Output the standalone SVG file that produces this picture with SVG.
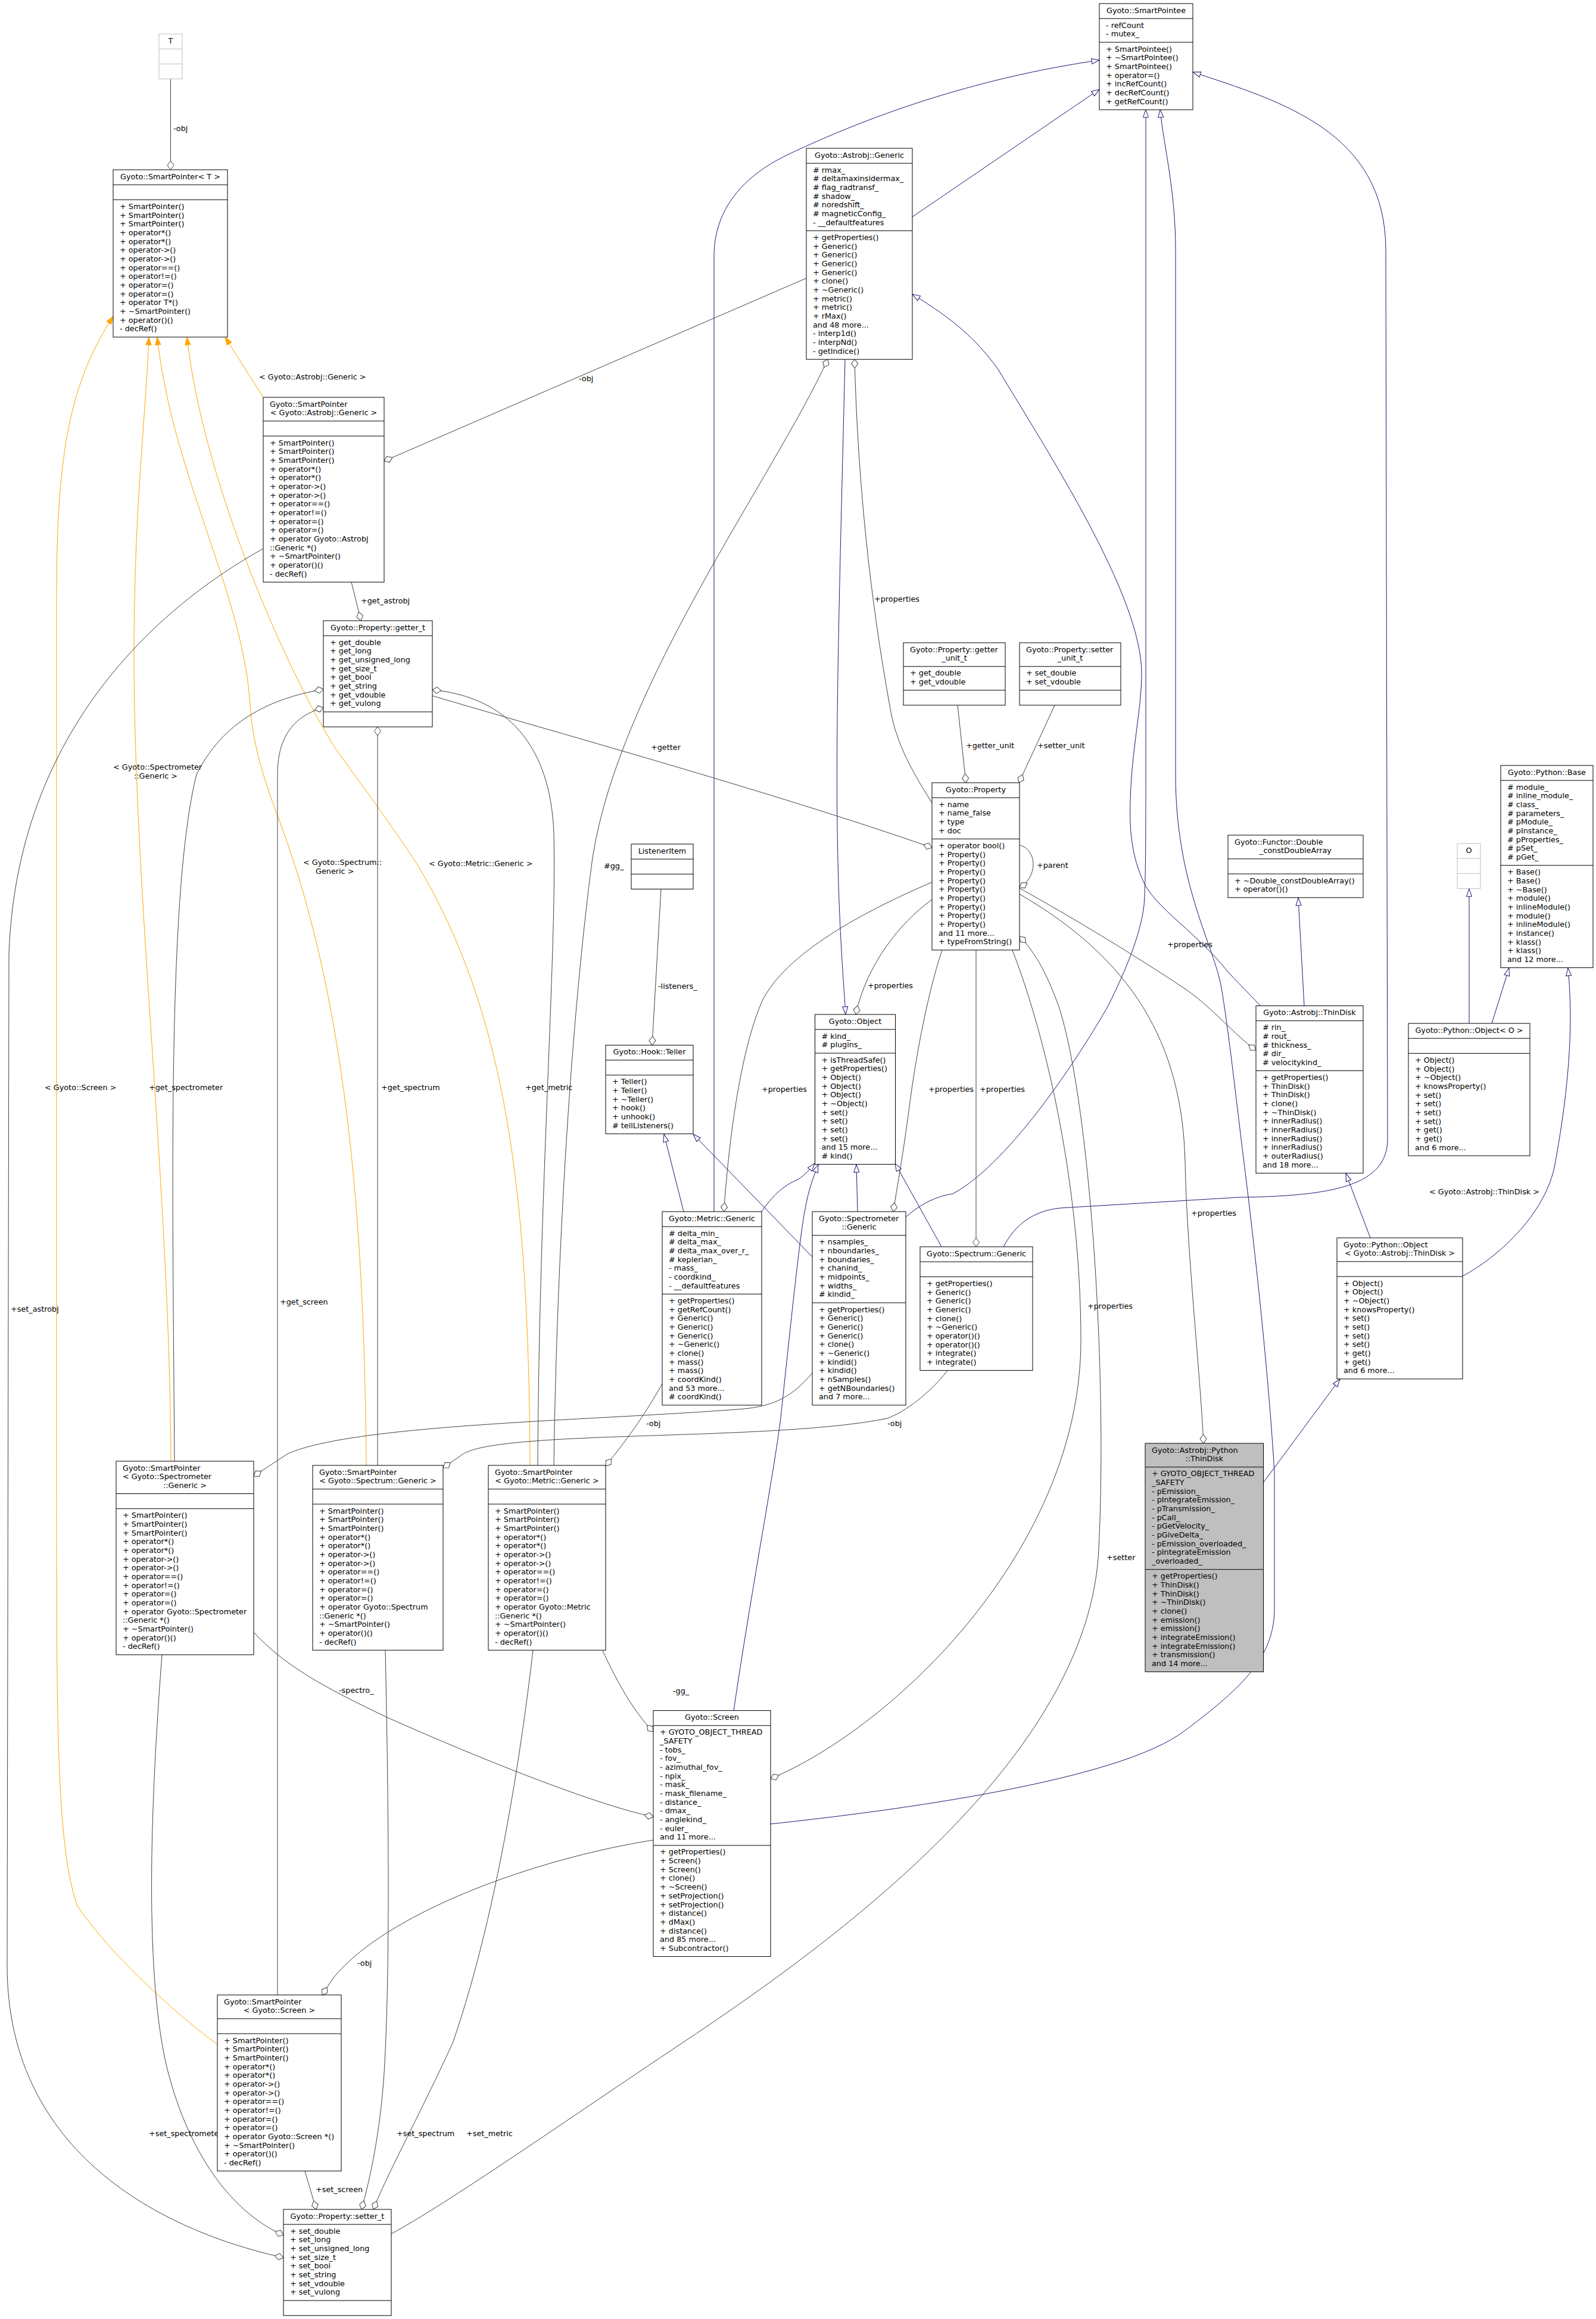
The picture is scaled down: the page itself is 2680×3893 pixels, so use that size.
<svg xmlns="http://www.w3.org/2000/svg" width="2680" height="3893" viewBox="0 0 2680 3893">
<style>
.b{fill:#fff;stroke:#000;stroke-width:1}
.g{fill:#fff;stroke:#bfbfbf;stroke-width:1}
.m{fill:#bfbfbf;stroke:#000;stroke-width:1}
.s{fill:none;stroke:#000;stroke-width:1}
.sg{fill:none;stroke:#bfbfbf;stroke-width:1}
text{font-family:"DejaVu Sans",Verdana,sans-serif;font-size:12.8px;fill:#000}
.c{text-anchor:middle}
.i{fill:none;stroke:#191970;stroke-width:1;marker-end:url(#mi)}
.u{fill:none;stroke:#404040;stroke-width:1;marker-end:url(#md)}
.o{fill:none;stroke:#ffa500;stroke-width:1;marker-end:url(#mo)}
</style>
<defs>
<marker id="mi" markerUnits="userSpaceOnUse" markerWidth="16" markerHeight="12" refX="14" refY="5.5" orient="auto" overflow="visible"><path d="M1,1 L14,5.5 L1,10 Z" fill="#fff" stroke="#191970"/></marker>
<marker id="md" markerUnits="userSpaceOnUse" markerWidth="16" markerHeight="12" refX="15" refY="5.5" orient="auto" overflow="visible"><path d="M0,5.5 L7.5,0 L15,5.5 L7.5,11 Z" fill="#fff" stroke="#404040"/></marker>
<marker id="mo" markerUnits="userSpaceOnUse" markerWidth="16" markerHeight="12" refX="14" refY="5.5" orient="auto" overflow="visible"><path d="M1,1 L14,5.5 L1,10 Z" fill="#ffa500" stroke="#ffa500"/></marker>
</defs>
<rect x="0" y="0" width="2680" height="3893" fill="#fff"/>

<g id="connectors">
<path class="i" d="M1532,364 L1846,150"/>
<path class="i" d="M1199,2034 L1199,430 C1199,350 1250,295 1320,261 C1500,175 1680,125 1846,101"/>
<path class="i" d="M1521,2043 C1550,2018 1575,2008 1600,2004 C1700,1950 1820,1760 1860,1690 C1890,1630 1915,1570 1921,1520 C1924,1480 1924,1400 1924,1300 L1924,184"/>
<path class="i" d="M1685,2093 C1705,2055 1735,2033 1780,2028 L2080,2010 C2240,2008 2330,1990 2330,1912 L2327,420 C2327,220 2150,170 2003,121"/>
<path class="i" d="M1294,3062 C1500,3040 1880,2990 1990,2905 C2090,2830 2140,2780 2140,2700 L2140,2473 C2130,2300 2105,2080 2090,1960 C2075,1840 2062,1720 2050,1653 C2035,1580 1974,1480 1974,1300 L1974,420 C1974,320 1955,250 1948,184"/>
<path class="i" d="M1419,603 C1412,900 1403,1200 1406,1390 C1408,1550 1416,1640 1420,1703"/>
<path class="i" d="M1279,2034 C1295,2010 1315,1990 1340,1980 C1352,1972 1360,1963 1368,1953"/>
<path class="i" d="M1232,2872 C1260,2680 1300,2470 1311,2380 C1330,2200 1345,2060 1352,2030 C1357,2000 1365,1978 1374,1955"/>
<path class="i" d="M1440,2034 L1438,1955"/>
<path class="i" d="M1581,2093 L1503,1953"/>
<path class="i" d="M1148,2034 L1115,1904"/>
<path class="i" d="M1364,2110 L1164,1904"/>
<path class="i" d="M2116,1688 C2092,1662 2068,1640 2050,1617 C2000,1560 1938,1520 1920,1480 C1902,1440 1896,1400 1898,1344 C1900,1260 1917,1190 1917,1130 C1917,1000 1760,760 1676,620 C1640,570 1600,535 1532,494"/>
<path class="i" d="M2190,1688 L2180,1507"/>
<path class="i" d="M2301,2078 L2260,1970"/>
<path class="i" d="M2456,2142 C2500,2120 2590,2050 2610,1960 C2640,1800 2640,1700 2633,1625"/>
<path class="i" d="M2467,1718 L2467,1492"/>
<path class="i" d="M2505,1718 L2534,1625"/>
<path class="i" d="M2122,2488 L2250,2315"/>

<path class="o" d="M442,667 L378,566"/>
<path class="o" d="M287,2453 C285,2000 225,1500 225,1100 C225,850 245,700 250,566"/>
<path class="o" d="M615,2460 C612,2100 590,1700 470,1380 C440,1300 425,1250 420,1185 C410,1000 290,800 264,566"/>
<path class="o" d="M890,2460 C888,2000 850,1700 700,1450 C620,1330 570,1270 553,1240 C470,1100 340,800 314,566"/>
<path class="o" d="M365,3432 C320,3400 200,3300 130,3200 C95,3100 95,2900 95,2500 L95,1000 C95,750 120,640 190,531"/>

<path class="u" d="M286.5,132.5 L286.5,285"/>
<path class="u" d="M1354,467 L645,774"/>
<path class="u" d="M590,977 L606,1042"/>
<path class="u" d="M1565,1348 C1535,1300 1505,1250 1495,1190 C1460,1000 1440,800 1435,603"/>
<path class="u" d="M930,2460 C935,2100 960,1700 995,1440 C1040,1150 1300,800 1390,603"/>
<path class="u" d="M726,1168 C900,1220 1300,1330 1565,1423"/>
<path class="u" d="M903,2460 C905,2000 935,1600 930,1400 C925,1250 850,1170 726,1158"/>
<path class="u" d="M293,2453 C290,2000 280,1500 330,1300 C380,1200 470,1170 543,1157"/>
<path class="u" d="M634,2460 L634,1220"/>
<path class="u" d="M466,3349 L466,1300 C466,1230 500,1200 543,1188"/>
<path class="u" d="M1608,1184 L1622,1314"/>
<path class="u" d="M1771,1184 L1711,1314"/>
<path class="u" d="M1712,1419 C1740,1425 1745,1470 1712,1490"/>
<path class="u" d="M1565,1481 C1450,1530 1320,1600 1280,1680 C1245,1760 1225,1900 1215.5,2034"/>
<path class="u" d="M1565,1510 C1510,1550 1455,1620 1437,1703"/>
<path class="u" d="M1582,1595 C1560,1660 1540,1760 1528,1850 C1515,1950 1505,2000 1500,2034"/>
<path class="u" d="M1639,1595 L1639,2093"/>
<path class="u" d="M1700,1595 C1760,1750 1815,2000 1815,2250 C1815,2600 1500,2900 1294,2986"/>
<path class="u" d="M1712,1491 C1800,1540 1900,1600 1990,1660 C2040,1695 2070,1735 2109,1763"/>
<path class="u" d="M1712,1501 C1900,1610 1985,1750 1990,1950 C1993,2100 2015,2300 2021,2423"/>
<path class="u" d="M657,3750 C750,3700 950,3560 1145,3430 C1400,3260 1830,2950 1845,2600 C1860,2300 1830,1850 1778,1690 C1760,1640 1740,1600 1712,1572"/>
<path class="u" d="M1364,2305 C1330,2345 1300,2360 1250,2365 C1000,2385 600,2390 484,2440 L426,2478"/>
<path class="u" d="M1591,2301 C1560,2340 1520,2370 1490,2381 C1300,2420 850,2400 779,2440 L744,2464"/>
<path class="u" d="M1112,2323 C1080,2380 1050,2420 1017,2461"/>
<path class="u" d="M1012,2771 C1030,2810 1060,2870 1097,2907"/>
<path class="u" d="M426,2740 C480,2800 560,2840 650,2883 C800,2950 1000,3030 1097,3050"/>
<path class="u" d="M1097,3089 C900,3120 650,3210 560,3320 L541,3349"/>
<path class="u" d="M512,3645 L531,3709"/>
<path class="u" d="M647,2770 C652,3000 656,3300 645,3480 C637,3600 615,3680 607,3709"/>
<path class="u" d="M895,2770 C880,2900 840,3200 760,3430 C700,3560 650,3650 627,3709"/>
<path class="u" d="M272,2778 C255,3000 240,3300 280,3470 C320,3630 400,3720 476,3752"/>
<path class="u" d="M442,921 C300,1000 30,1200 15,1600 L12,3300 C12,3600 250,3740 476,3790"/>
<path class="u" d="M1110,1492.5 L1095,1754.5"/>

<text x="291" y="220">-obj</text>
<text x="972" y="640">-obj</text>
<text x="606" y="1013">+get_astrobj</text>
<text x="1468" y="1010">+properties</text>
<text x="1014" y="1458">#gg_</text>
<text x="1093" y="1259">+getter</text>
<text x="1622" y="1256">+getter_unit</text>
<text x="1742" y="1256">+setter_unit</text>
<text x="1741" y="1457">+parent</text>
<text x="1105" y="1660">-listeners_</text>
<text x="1457" y="1659">+properties</text>
<text x="1279" y="1833">+properties</text>
<text x="1559" y="1833">+properties</text>
<text x="1645" y="1833">+properties</text>
<text x="1960" y="1590">+properties</text>
<text x="2000" y="2041">+properties</text>
<text x="1826" y="2197">+properties</text>
<text x="1858" y="2619">+setter</text>
<text x="2400" y="2005">&lt; Gyoto::Astrobj::ThinDisk &gt;</text>
<text x="435" y="637">&lt; Gyoto::Astrobj::Generic &gt;</text>
<text x="190" y="1292">&lt; Gyoto::Spectrometer<tspan x="225" dy="14.67">::Generic &gt;</tspan></text>
<text x="509" y="1452">&lt; Gyoto::Spectrum::<tspan x="530" dy="14.67">Generic &gt;</tspan></text>
<text x="720" y="1454">&lt; Gyoto::Metric::Generic &gt;</text>
<text x="75" y="1830">&lt; Gyoto::Screen &gt;</text>
<text x="250" y="1830">+get_spectrometer</text>
<text x="640" y="1830">+get_spectrum</text>
<text x="882" y="1830">+get_metric</text>
<text x="470" y="2190">+get_screen</text>
<text x="18" y="2202">+set_astrobj</text>
<text x="1085" y="2394">-obj</text>
<text x="1490" y="2394">-obj</text>
<text x="569" y="2842">-spectro_</text>
<text x="1130" y="2843">-gg_</text>
<text x="600" y="3300">-obj</text>
<text x="250" y="3586">+set_spectrometer</text>
<text x="666" y="3586">+set_spectrum</text>
<text x="783" y="3586">+set_metric</text>
<text x="530" y="3680">+set_screen</text>
</g>

<g id="smartpointee">
<rect class="b" x="1846" y="6" width="157" height="178.2"/>
<path class="s" d="M1846,31.17H2003M1846,71.01H2003"/>
<text class="c" x="1924.5" y="21.5">Gyoto::SmartPointee</text>
<text x="1857" y="46.67">- refCount<tspan x="1857" dy="14.67">- mutex_</tspan></text>
<text x="1857" y="86.51">+ SmartPointee()<tspan x="1857" dy="14.67">+ ~SmartPointee()</tspan><tspan x="1857" dy="14.67">+ SmartPointee()</tspan><tspan x="1857" dy="14.67">+ operator=()</tspan><tspan x="1857" dy="14.67">+ incRefCount()</tspan><tspan x="1857" dy="14.67">+ decRefCount()</tspan><tspan x="1857" dy="14.67">+ getRefCount()</tspan></text>
</g>

<g id="t">
<rect class="g" x="267" y="57" width="39" height="75.5"/>
<path class="sg" d="M267,82.17H306M267,107.34H306"/>
<text class="c" x="286.5" y="72.5">T</text>
</g>

<g id="smartpointer_t">
<rect class="b" x="190" y="285" width="192" height="280.9"/>
<path class="s" d="M190,310.17H382M190,335.34H382"/>
<text class="c" x="286" y="300.5">Gyoto::SmartPointer&lt; T &gt;</text>
<text x="201" y="350.84">+ SmartPointer()<tspan x="201" dy="14.67">+ SmartPointer()</tspan><tspan x="201" dy="14.67">+ SmartPointer()</tspan><tspan x="201" dy="14.67">+ operator*()</tspan><tspan x="201" dy="14.67">+ operator*()</tspan><tspan x="201" dy="14.67">+ operator-&gt;()</tspan><tspan x="201" dy="14.67">+ operator-&gt;()</tspan><tspan x="201" dy="14.67">+ operator==()</tspan><tspan x="201" dy="14.67">+ operator!=()</tspan><tspan x="201" dy="14.67">+ operator=()</tspan><tspan x="201" dy="14.67">+ operator=()</tspan><tspan x="201" dy="14.67">+ operator T*()</tspan><tspan x="201" dy="14.67">+ ~SmartPointer()</tspan><tspan x="201" dy="14.67">+ operator()()</tspan><tspan x="201" dy="14.67">- decRef()</tspan></text>
</g>

<g id="astrobj_generic">
<rect class="b" x="1354" y="249" width="178" height="354.24"/>
<path class="s" d="M1354,274.17H1532M1354,387.36H1532"/>
<text class="c" x="1443" y="264.5">Gyoto::Astrobj::Generic</text>
<text x="1365" y="289.67"># rmax_<tspan x="1365" dy="14.67"># deltamaxinsidermax_</tspan><tspan x="1365" dy="14.67"># flag_radtransf_</tspan><tspan x="1365" dy="14.67"># shadow_</tspan><tspan x="1365" dy="14.67"># noredshift_</tspan><tspan x="1365" dy="14.67"># magneticConfig_</tspan><tspan x="1365" dy="14.67">- __defaultfeatures</tspan></text>
<text x="1365" y="402.86">+ getProperties()<tspan x="1365" dy="14.67">+ Generic()</tspan><tspan x="1365" dy="14.67">+ Generic()</tspan><tspan x="1365" dy="14.67">+ Generic()</tspan><tspan x="1365" dy="14.67">+ Generic()</tspan><tspan x="1365" dy="14.67">+ clone()</tspan><tspan x="1365" dy="14.67">+ ~Generic()</tspan><tspan x="1365" dy="14.67">+ metric()</tspan><tspan x="1365" dy="14.67">+ metric()</tspan><tspan x="1365" dy="14.67">+ rMax()</tspan><tspan x="1365" dy="14.67">and 48 more...</tspan><tspan x="1365" dy="14.67">- interp1d()</tspan><tspan x="1365" dy="14.67">- interpNd()</tspan><tspan x="1365" dy="14.67">- getIndice()</tspan></text>
</g>

<g id="smartpointer_astrobj">
<rect class="b" x="442" y="667" width="203" height="310.23"/>
<path class="s" d="M442,706.84H645M442,732.01H645"/>
<text x="453" y="682.5">Gyoto::SmartPointer</text>
<text class="c" x="543.5" y="697.17">&lt; Gyoto::Astrobj::Generic &gt;</text>
<text x="453" y="747.51">+ SmartPointer()<tspan x="453" dy="14.67">+ SmartPointer()</tspan><tspan x="453" dy="14.67">+ SmartPointer()</tspan><tspan x="453" dy="14.67">+ operator*()</tspan><tspan x="453" dy="14.67">+ operator*()</tspan><tspan x="453" dy="14.67">+ operator-&gt;()</tspan><tspan x="453" dy="14.67">+ operator-&gt;()</tspan><tspan x="453" dy="14.67">+ operator==()</tspan><tspan x="453" dy="14.67">+ operator!=()</tspan><tspan x="453" dy="14.67">+ operator=()</tspan><tspan x="453" dy="14.67">+ operator=()</tspan><tspan x="453" dy="14.67">+ operator Gyoto::Astrobj</tspan><tspan x="453" dy="14.67">::Generic *()</tspan><tspan x="453" dy="14.67">+ ~SmartPointer()</tspan><tspan x="453" dy="14.67">+ operator()()</tspan><tspan x="453" dy="14.67">- decRef()</tspan></text>
</g>

<g id="getter_t">
<rect class="b" x="543" y="1042" width="183" height="178.2"/>
<path class="s" d="M543,1067.17H726M543,1195.03H726"/>
<text class="c" x="634.5" y="1057.5">Gyoto::Property::getter_t</text>
<text x="554" y="1082.67">+ get_double<tspan x="554" dy="14.67">+ get_long</tspan><tspan x="554" dy="14.67">+ get_unsigned_long</tspan><tspan x="554" dy="14.67">+ get_size_t</tspan><tspan x="554" dy="14.67">+ get_bool</tspan><tspan x="554" dy="14.67">+ get_string</tspan><tspan x="554" dy="14.67">+ get_vdouble</tspan><tspan x="554" dy="14.67">+ get_vulong</tspan></text>
</g>

<g id="getter_unit_t">
<rect class="b" x="1517" y="1079" width="171" height="104.85"/>
<path class="s" d="M1517,1118.84H1688M1517,1158.68H1688"/>
<text x="1528" y="1094.5">Gyoto::Property::getter</text>
<text class="c" x="1602.5" y="1109.17">_unit_t</text>
<text x="1528" y="1134.34">+ get_double<tspan x="1528" dy="14.67">+ get_vdouble</tspan></text>
</g>

<g id="setter_unit_t">
<rect class="b" x="1712" y="1079" width="170" height="104.85"/>
<path class="s" d="M1712,1118.84H1882M1712,1158.68H1882"/>
<text x="1723" y="1094.5">Gyoto::Property::setter</text>
<text class="c" x="1797" y="1109.17">_unit_t</text>
<text x="1723" y="1134.34">+ set_double<tspan x="1723" dy="14.67">+ set_vdouble</tspan></text>
</g>

<g id="property">
<rect class="b" x="1565" y="1314" width="147" height="280.89"/>
<path class="s" d="M1565,1339.17H1712M1565,1408.35H1712"/>
<text class="c" x="1638.5" y="1329.5">Gyoto::Property</text>
<text x="1576" y="1354.67">+ name<tspan x="1576" dy="14.67">+ name_false</tspan><tspan x="1576" dy="14.67">+ type</tspan><tspan x="1576" dy="14.67">+ doc</tspan></text>
<text x="1576" y="1423.85">+ operator bool()<tspan x="1576" dy="14.67">+ Property()</tspan><tspan x="1576" dy="14.67">+ Property()</tspan><tspan x="1576" dy="14.67">+ Property()</tspan><tspan x="1576" dy="14.67">+ Property()</tspan><tspan x="1576" dy="14.67">+ Property()</tspan><tspan x="1576" dy="14.67">+ Property()</tspan><tspan x="1576" dy="14.67">+ Property()</tspan><tspan x="1576" dy="14.67">+ Property()</tspan><tspan x="1576" dy="14.67">+ Property()</tspan><tspan x="1576" dy="14.67">and 11 more...</tspan><tspan x="1576" dy="14.67">+ typeFromString()</tspan></text>
</g>

<g id="functor">
<rect class="b" x="2062" y="1402" width="227" height="104.85"/>
<path class="s" d="M2062,1441.84H2289M2062,1467.01H2289"/>
<text x="2073" y="1417.5">Gyoto::Functor::Double</text>
<text class="c" x="2175.5" y="1432.17">_constDoubleArray</text>
<text x="2073" y="1482.51">+ ~Double_constDoubleArray()<tspan x="2073" dy="14.67">+ operator()()</tspan></text>
</g>

<g id="python_base">
<rect class="b" x="2520" y="1285" width="155" height="339.57"/>
<path class="s" d="M2520,1310.17H2675M2520,1452.7H2675"/>
<text class="c" x="2597.5" y="1300.5">Gyoto::Python::Base</text>
<text x="2531" y="1325.67"># module_<tspan x="2531" dy="14.67"># inline_module_</tspan><tspan x="2531" dy="14.67"># class_</tspan><tspan x="2531" dy="14.67"># parameters_</tspan><tspan x="2531" dy="14.67"># pModule_</tspan><tspan x="2531" dy="14.67"># pInstance_</tspan><tspan x="2531" dy="14.67"># pProperties_</tspan><tspan x="2531" dy="14.67"># pSet_</tspan><tspan x="2531" dy="14.67"># pGet_</tspan></text>
<text x="2531" y="1468.2">+ Base()<tspan x="2531" dy="14.67">+ Base()</tspan><tspan x="2531" dy="14.67">+ ~Base()</tspan><tspan x="2531" dy="14.67">+ module()</tspan><tspan x="2531" dy="14.67">+ inlineModule()</tspan><tspan x="2531" dy="14.67">+ module()</tspan><tspan x="2531" dy="14.67">+ inlineModule()</tspan><tspan x="2531" dy="14.67">+ instance()</tspan><tspan x="2531" dy="14.67">+ klass()</tspan><tspan x="2531" dy="14.67">+ klass()</tspan><tspan x="2531" dy="14.67">and 12 more...</tspan></text>
</g>

<g id="o">
<rect class="g" x="2447" y="1416" width="39" height="75.5"/>
<path class="sg" d="M2447,1441.17H2486M2447,1466.34H2486"/>
<text class="c" x="2466.5" y="1431.5">O</text>
</g>

<g id="listeneritem">
<rect class="b" x="1060" y="1417" width="104" height="75.5"/>
<path class="s" d="M1060,1442.17H1164M1060,1467.34H1164"/>
<text class="c" x="1112" y="1432.5">ListenerItem</text>
</g>

<g id="teller">
<rect class="b" x="1017" y="1754.5" width="147" height="148.86"/>
<path class="s" d="M1017,1779.67H1164M1017,1804.84H1164"/>
<text class="c" x="1090.5" y="1770">Gyoto::Hook::Teller</text>
<text x="1028" y="1820.34">+ Teller()<tspan x="1028" dy="14.67">+ Teller()</tspan><tspan x="1028" dy="14.67">+ ~Teller()</tspan><tspan x="1028" dy="14.67">+ hook()</tspan><tspan x="1028" dy="14.67">+ unhook()</tspan><tspan x="1028" dy="14.67"># tellListeners()</tspan></text>
</g>

<g id="object">
<rect class="b" x="1368.5" y="1703" width="135" height="251.55"/>
<path class="s" d="M1368.5,1728.17H1503.5M1368.5,1768.01H1503.5"/>
<text class="c" x="1436" y="1718.5">Gyoto::Object</text>
<text x="1379.5" y="1743.67"># kind_<tspan x="1379.5" dy="14.67"># plugins_</tspan></text>
<text x="1379.5" y="1783.51">+ isThreadSafe()<tspan x="1379.5" dy="14.67">+ getProperties()</tspan><tspan x="1379.5" dy="14.67">+ Object()</tspan><tspan x="1379.5" dy="14.67">+ Object()</tspan><tspan x="1379.5" dy="14.67">+ Object()</tspan><tspan x="1379.5" dy="14.67">+ ~Object()</tspan><tspan x="1379.5" dy="14.67">+ set()</tspan><tspan x="1379.5" dy="14.67">+ set()</tspan><tspan x="1379.5" dy="14.67">+ set()</tspan><tspan x="1379.5" dy="14.67">+ set()</tspan><tspan x="1379.5" dy="14.67">and 15 more...</tspan><tspan x="1379.5" dy="14.67"># kind()</tspan></text>
</g>

<g id="thindisk">
<rect class="b" x="2109" y="1688.5" width="180" height="280.89"/>
<path class="s" d="M2109,1713.67H2289M2109,1797.52H2289"/>
<text class="c" x="2199" y="1704">Gyoto::Astrobj::ThinDisk</text>
<text x="2120" y="1729.17"># rin_<tspan x="2120" dy="14.67"># rout_</tspan><tspan x="2120" dy="14.67"># thickness_</tspan><tspan x="2120" dy="14.67"># dir_</tspan><tspan x="2120" dy="14.67"># velocitykind_</tspan></text>
<text x="2120" y="1813.02">+ getProperties()<tspan x="2120" dy="14.67">+ ThinDisk()</tspan><tspan x="2120" dy="14.67">+ ThinDisk()</tspan><tspan x="2120" dy="14.67">+ clone()</tspan><tspan x="2120" dy="14.67">+ ~ThinDisk()</tspan><tspan x="2120" dy="14.67">+ innerRadius()</tspan><tspan x="2120" dy="14.67">+ innerRadius()</tspan><tspan x="2120" dy="14.67">+ innerRadius()</tspan><tspan x="2120" dy="14.67">+ innerRadius()</tspan><tspan x="2120" dy="14.67">+ outerRadius()</tspan><tspan x="2120" dy="14.67">and 18 more...</tspan></text>
</g>

<g id="python_object_o">
<rect class="b" x="2365" y="1718" width="204" height="222.21"/>
<path class="s" d="M2365,1743.17H2569M2365,1768.34H2569"/>
<text class="c" x="2467" y="1733.5">Gyoto::Python::Object&lt; O &gt;</text>
<text x="2376" y="1783.84">+ Object()<tspan x="2376" dy="14.67">+ Object()</tspan><tspan x="2376" dy="14.67">+ ~Object()</tspan><tspan x="2376" dy="14.67">+ knowsProperty()</tspan><tspan x="2376" dy="14.67">+ set()</tspan><tspan x="2376" dy="14.67">+ set()</tspan><tspan x="2376" dy="14.67">+ set()</tspan><tspan x="2376" dy="14.67">+ set()</tspan><tspan x="2376" dy="14.67">+ get()</tspan><tspan x="2376" dy="14.67">+ get()</tspan><tspan x="2376" dy="14.67">and 6 more...</tspan></text>
</g>

<g id="metric_generic">
<rect class="b" x="1112" y="2034" width="167" height="324.9"/>
<path class="s" d="M1112,2059.17H1279M1112,2172.36H1279"/>
<text class="c" x="1195.5" y="2049.5">Gyoto::Metric::Generic</text>
<text x="1123" y="2074.67"># delta_min_<tspan x="1123" dy="14.67"># delta_max_</tspan><tspan x="1123" dy="14.67"># delta_max_over_r_</tspan><tspan x="1123" dy="14.67"># keplerian_</tspan><tspan x="1123" dy="14.67">- mass_</tspan><tspan x="1123" dy="14.67">- coordkind_</tspan><tspan x="1123" dy="14.67">- __defaultfeatures</tspan></text>
<text x="1123" y="2187.86">+ getProperties()<tspan x="1123" dy="14.67">+ getRefCount()</tspan><tspan x="1123" dy="14.67">+ Generic()</tspan><tspan x="1123" dy="14.67">+ Generic()</tspan><tspan x="1123" dy="14.67">+ Generic()</tspan><tspan x="1123" dy="14.67">+ ~Generic()</tspan><tspan x="1123" dy="14.67">+ clone()</tspan><tspan x="1123" dy="14.67">+ mass()</tspan><tspan x="1123" dy="14.67">+ mass()</tspan><tspan x="1123" dy="14.67">+ coordKind()</tspan><tspan x="1123" dy="14.67">and 53 more...</tspan><tspan x="1123" dy="14.67"># coordKind()</tspan></text>
</g>

<g id="spectrometer_generic">
<rect class="b" x="1364" y="2034" width="157" height="324.9"/>
<path class="s" d="M1364,2073.84H1521M1364,2187.03H1521"/>
<text x="1375" y="2049.5">Gyoto::Spectrometer</text>
<text class="c" x="1442.5" y="2064.17">::Generic</text>
<text x="1375" y="2089.34">+ nsamples_<tspan x="1375" dy="14.67">+ nboundaries_</tspan><tspan x="1375" dy="14.67">+ boundaries_</tspan><tspan x="1375" dy="14.67">+ chanind_</tspan><tspan x="1375" dy="14.67">+ midpoints_</tspan><tspan x="1375" dy="14.67">+ widths_</tspan><tspan x="1375" dy="14.67"># kindid_</tspan></text>
<text x="1375" y="2202.53">+ getProperties()<tspan x="1375" dy="14.67">+ Generic()</tspan><tspan x="1375" dy="14.67">+ Generic()</tspan><tspan x="1375" dy="14.67">+ Generic()</tspan><tspan x="1375" dy="14.67">+ clone()</tspan><tspan x="1375" dy="14.67">+ ~Generic()</tspan><tspan x="1375" dy="14.67">+ kindid()</tspan><tspan x="1375" dy="14.67">+ kindid()</tspan><tspan x="1375" dy="14.67">+ nSamples()</tspan><tspan x="1375" dy="14.67">+ getNBoundaries()</tspan><tspan x="1375" dy="14.67">and 7 more...</tspan></text>
</g>

<g id="spectrum_generic">
<rect class="b" x="1545" y="2093" width="189" height="207.54"/>
<path class="s" d="M1545,2118.17H1734M1545,2143.34H1734"/>
<text class="c" x="1639.5" y="2108.5">Gyoto::Spectrum::Generic</text>
<text x="1556" y="2158.84">+ getProperties()<tspan x="1556" dy="14.67">+ Generic()</tspan><tspan x="1556" dy="14.67">+ Generic()</tspan><tspan x="1556" dy="14.67">+ Generic()</tspan><tspan x="1556" dy="14.67">+ clone()</tspan><tspan x="1556" dy="14.67">+ ~Generic()</tspan><tspan x="1556" dy="14.67">+ operator()()</tspan><tspan x="1556" dy="14.67">+ operator()()</tspan><tspan x="1556" dy="14.67">+ integrate()</tspan><tspan x="1556" dy="14.67">+ integrate()</tspan></text>
</g>

<g id="python_object_thindisk">
<rect class="b" x="2245" y="2078" width="211" height="236.88"/>
<path class="s" d="M2245,2117.84H2456M2245,2143.01H2456"/>
<text x="2256" y="2093.5">Gyoto::Python::Object</text>
<text class="c" x="2350.5" y="2108.17">&lt; Gyoto::Astrobj::ThinDisk &gt;</text>
<text x="2256" y="2158.51">+ Object()<tspan x="2256" dy="14.67">+ Object()</tspan><tspan x="2256" dy="14.67">+ ~Object()</tspan><tspan x="2256" dy="14.67">+ knowsProperty()</tspan><tspan x="2256" dy="14.67">+ set()</tspan><tspan x="2256" dy="14.67">+ set()</tspan><tspan x="2256" dy="14.67">+ set()</tspan><tspan x="2256" dy="14.67">+ set()</tspan><tspan x="2256" dy="14.67">+ get()</tspan><tspan x="2256" dy="14.67">+ get()</tspan><tspan x="2256" dy="14.67">and 6 more...</tspan></text>
</g>

<g id="python_thindisk">
<rect class="m" x="1923" y="2423" width="198.5" height="383.58"/>
<path class="s" d="M1923,2462.84H2121.5M1923,2634.71H2121.5"/>
<text x="1934" y="2438.5">Gyoto::Astrobj::Python</text>
<text class="c" x="2022.25" y="2453.17">::ThinDisk</text>
<text x="1934" y="2478.34">+ GYOTO_OBJECT_THREAD<tspan x="1934" dy="14.67">_SAFETY</tspan><tspan x="1934" dy="14.67">- pEmission_</tspan><tspan x="1934" dy="14.67">- pIntegrateEmission_</tspan><tspan x="1934" dy="14.67">- pTransmission_</tspan><tspan x="1934" dy="14.67">- pCall_</tspan><tspan x="1934" dy="14.67">- pGetVelocity_</tspan><tspan x="1934" dy="14.67">- pGiveDelta_</tspan><tspan x="1934" dy="14.67">- pEmission_overloaded_</tspan><tspan x="1934" dy="14.67">- pIntegrateEmission</tspan><tspan x="1934" dy="14.67">_overloaded_</tspan></text>
<text x="1934" y="2650.21">+ getProperties()<tspan x="1934" dy="14.67">+ ThinDisk()</tspan><tspan x="1934" dy="14.67">+ ThinDisk()</tspan><tspan x="1934" dy="14.67">+ ~ThinDisk()</tspan><tspan x="1934" dy="14.67">+ clone()</tspan><tspan x="1934" dy="14.67">+ emission()</tspan><tspan x="1934" dy="14.67">+ emission()</tspan><tspan x="1934" dy="14.67">+ integrateEmission()</tspan><tspan x="1934" dy="14.67">+ integrateEmission()</tspan><tspan x="1934" dy="14.67">+ transmission()</tspan><tspan x="1934" dy="14.67">and 14 more...</tspan></text>
</g>

<g id="smartpointer_spectrometer">
<rect class="b" x="195" y="2453" width="231" height="324.9"/>
<path class="s" d="M195,2507.51H426M195,2532.68H426"/>
<text x="206" y="2468.5">Gyoto::SmartPointer<tspan x="206" dy="14.67">&lt; Gyoto::Spectrometer</tspan></text>
<text class="c" x="310.5" y="2497.84">::Generic &gt;</text>
<text x="206" y="2548.18">+ SmartPointer()<tspan x="206" dy="14.67">+ SmartPointer()</tspan><tspan x="206" dy="14.67">+ SmartPointer()</tspan><tspan x="206" dy="14.67">+ operator*()</tspan><tspan x="206" dy="14.67">+ operator*()</tspan><tspan x="206" dy="14.67">+ operator-&gt;()</tspan><tspan x="206" dy="14.67">+ operator-&gt;()</tspan><tspan x="206" dy="14.67">+ operator==()</tspan><tspan x="206" dy="14.67">+ operator!=()</tspan><tspan x="206" dy="14.67">+ operator=()</tspan><tspan x="206" dy="14.67">+ operator=()</tspan><tspan x="206" dy="14.67">+ operator Gyoto::Spectrometer</tspan><tspan x="206" dy="14.67">::Generic *()</tspan><tspan x="206" dy="14.67">+ ~SmartPointer()</tspan><tspan x="206" dy="14.67">+ operator()()</tspan><tspan x="206" dy="14.67">- decRef()</tspan></text>
</g>

<g id="smartpointer_spectrum">
<rect class="b" x="525" y="2460" width="219" height="310.23"/>
<path class="s" d="M525,2499.84H744M525,2525.01H744"/>
<text x="536" y="2475.5">Gyoto::SmartPointer</text>
<text class="c" x="634.5" y="2490.17">&lt; Gyoto::Spectrum::Generic &gt;</text>
<text x="536" y="2540.51">+ SmartPointer()<tspan x="536" dy="14.67">+ SmartPointer()</tspan><tspan x="536" dy="14.67">+ SmartPointer()</tspan><tspan x="536" dy="14.67">+ operator*()</tspan><tspan x="536" dy="14.67">+ operator*()</tspan><tspan x="536" dy="14.67">+ operator-&gt;()</tspan><tspan x="536" dy="14.67">+ operator-&gt;()</tspan><tspan x="536" dy="14.67">+ operator==()</tspan><tspan x="536" dy="14.67">+ operator!=()</tspan><tspan x="536" dy="14.67">+ operator=()</tspan><tspan x="536" dy="14.67">+ operator=()</tspan><tspan x="536" dy="14.67">+ operator Gyoto::Spectrum</tspan><tspan x="536" dy="14.67">::Generic *()</tspan><tspan x="536" dy="14.67">+ ~SmartPointer()</tspan><tspan x="536" dy="14.67">+ operator()()</tspan><tspan x="536" dy="14.67">- decRef()</tspan></text>
</g>

<g id="smartpointer_metric">
<rect class="b" x="820" y="2460" width="197" height="310.23"/>
<path class="s" d="M820,2499.84H1017M820,2525.01H1017"/>
<text x="831" y="2475.5">Gyoto::SmartPointer</text>
<text class="c" x="918.5" y="2490.17">&lt; Gyoto::Metric::Generic &gt;</text>
<text x="831" y="2540.51">+ SmartPointer()<tspan x="831" dy="14.67">+ SmartPointer()</tspan><tspan x="831" dy="14.67">+ SmartPointer()</tspan><tspan x="831" dy="14.67">+ operator*()</tspan><tspan x="831" dy="14.67">+ operator*()</tspan><tspan x="831" dy="14.67">+ operator-&gt;()</tspan><tspan x="831" dy="14.67">+ operator-&gt;()</tspan><tspan x="831" dy="14.67">+ operator==()</tspan><tspan x="831" dy="14.67">+ operator!=()</tspan><tspan x="831" dy="14.67">+ operator=()</tspan><tspan x="831" dy="14.67">+ operator=()</tspan><tspan x="831" dy="14.67">+ operator Gyoto::Metric</tspan><tspan x="831" dy="14.67">::Generic *()</tspan><tspan x="831" dy="14.67">+ ~SmartPointer()</tspan><tspan x="831" dy="14.67">+ operator()()</tspan><tspan x="831" dy="14.67">- decRef()</tspan></text>
</g>

<g id="screen">
<rect class="b" x="1097" y="2871.6" width="197" height="412.92"/>
<path class="s" d="M1097,2896.77H1294M1097,3097.98H1294"/>
<text class="c" x="1195.5" y="2887.1">Gyoto::Screen</text>
<text x="1108" y="2912.27">+ GYOTO_OBJECT_THREAD<tspan x="1108" dy="14.67">_SAFETY</tspan><tspan x="1108" dy="14.67">- tobs_</tspan><tspan x="1108" dy="14.67">- fov_</tspan><tspan x="1108" dy="14.67">- azimuthal_fov_</tspan><tspan x="1108" dy="14.67">- npix_</tspan><tspan x="1108" dy="14.67">- mask_</tspan><tspan x="1108" dy="14.67">- mask_filename_</tspan><tspan x="1108" dy="14.67">- distance_</tspan><tspan x="1108" dy="14.67">- dmax_</tspan><tspan x="1108" dy="14.67">- anglekind_</tspan><tspan x="1108" dy="14.67">- euler_</tspan><tspan x="1108" dy="14.67">and 11 more...</tspan></text>
<text x="1108" y="3113.48">+ getProperties()<tspan x="1108" dy="14.67">+ Screen()</tspan><tspan x="1108" dy="14.67">+ Screen()</tspan><tspan x="1108" dy="14.67">+ clone()</tspan><tspan x="1108" dy="14.67">+ ~Screen()</tspan><tspan x="1108" dy="14.67">+ setProjection()</tspan><tspan x="1108" dy="14.67">+ setProjection()</tspan><tspan x="1108" dy="14.67">+ distance()</tspan><tspan x="1108" dy="14.67">+ dMax()</tspan><tspan x="1108" dy="14.67">+ distance()</tspan><tspan x="1108" dy="14.67">and 85 more...</tspan><tspan x="1108" dy="14.67">+ Subcontractor()</tspan></text>
</g>

<g id="smartpointer_screen">
<rect class="b" x="365" y="3349" width="208" height="295.56"/>
<path class="s" d="M365,3388.84H573M365,3414.01H573"/>
<text x="376" y="3364.5">Gyoto::SmartPointer</text>
<text class="c" x="469" y="3379.17">&lt; Gyoto::Screen &gt;</text>
<text x="376" y="3429.51">+ SmartPointer()<tspan x="376" dy="14.67">+ SmartPointer()</tspan><tspan x="376" dy="14.67">+ SmartPointer()</tspan><tspan x="376" dy="14.67">+ operator*()</tspan><tspan x="376" dy="14.67">+ operator*()</tspan><tspan x="376" dy="14.67">+ operator-&gt;()</tspan><tspan x="376" dy="14.67">+ operator-&gt;()</tspan><tspan x="376" dy="14.67">+ operator==()</tspan><tspan x="376" dy="14.67">+ operator!=()</tspan><tspan x="376" dy="14.67">+ operator=()</tspan><tspan x="376" dy="14.67">+ operator=()</tspan><tspan x="376" dy="14.67">+ operator Gyoto::Screen *()</tspan><tspan x="376" dy="14.67">+ ~SmartPointer()</tspan><tspan x="376" dy="14.67">+ operator()()</tspan><tspan x="376" dy="14.67">- decRef()</tspan></text>
</g>

<g id="setter_t">
<rect class="b" x="476" y="3709" width="181" height="178.2"/>
<path class="s" d="M476,3734.17H657M476,3862.03H657"/>
<text class="c" x="566.5" y="3724.5">Gyoto::Property::setter_t</text>
<text x="487" y="3749.67">+ set_double<tspan x="487" dy="14.67">+ set_long</tspan><tspan x="487" dy="14.67">+ set_unsigned_long</tspan><tspan x="487" dy="14.67">+ set_size_t</tspan><tspan x="487" dy="14.67">+ set_bool</tspan><tspan x="487" dy="14.67">+ set_string</tspan><tspan x="487" dy="14.67">+ set_vdouble</tspan><tspan x="487" dy="14.67">+ set_vulong</tspan></text>
</g>
</svg>
